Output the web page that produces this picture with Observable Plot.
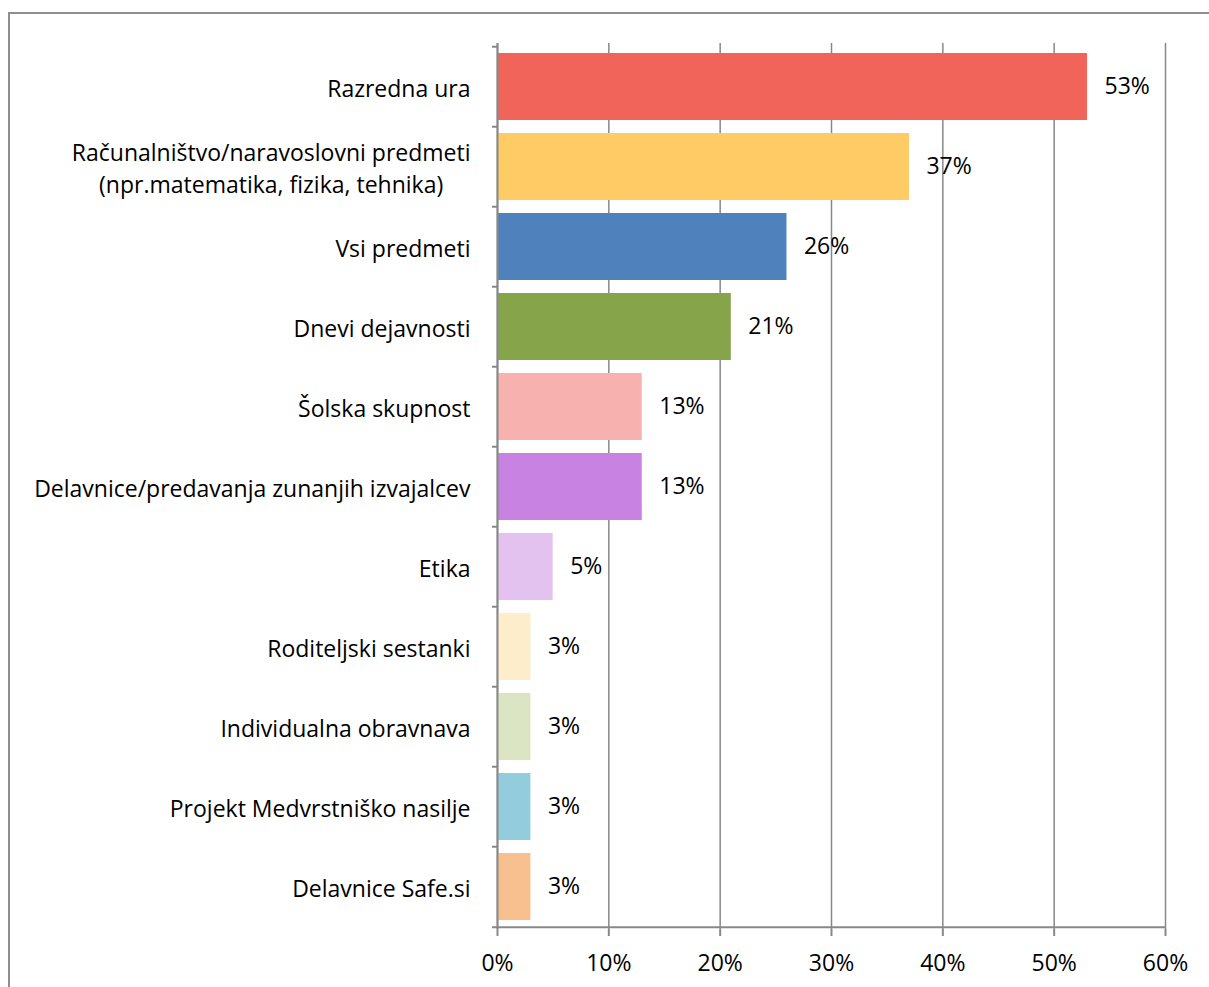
<!DOCTYPE html>
<html>
<head>
<meta charset="utf-8">
<script src="https://cdn.jsdelivr.net/npm/d3@7"></script>
<script src="https://cdn.jsdelivr.net/npm/@observablehq/plot@0.6"></script>
<style>
  html, body { margin: 0; padding: 0; background: #fff; }
  #wrap { position: relative; width: 1209px; height: 987px; overflow: hidden; }
  #border { position: absolute; left: 8px; top: 12px; width: 1400px; height: 1200px;
            border-left: 2px solid #8e8e8e; border-top: 2px solid #8e8e8e; pointer-events: none; }
</style>
</head>
<body>
<div id="wrap"><div id="chart"></div><div id="border"></div></div>
<script>
const categories = [
  "Razredna ura",
  "Računalništvo/naravoslovni predmeti (npr.matematika, fizika, tehnika)",
  "Vsi predmeti",
  "Dnevi dejavnosti",
  "Šolska skupnost",
  "Delavnice/predavanja zunanjih izvajalcev",
  "Etika",
  "Roditeljski sestanki",
  "Individualna obravnava",
  "Projekt Medvrstniško nasilje",
  "Delavnice Safe.si"
];
const values = [53, 37, 26, 21, 13, 13, 5, 3, 3, 3, 3];
const barColors = ["#F06459", "#FECB65", "#4F81BD", "#86A44A", "#F7B2B0", "#C882E2",
                   "#E4C2F0", "#FEEDCA", "#DBE5C3", "#93CDDD", "#F9C08F"];
const xTicks = [0, 10, 20, 30, 40, 50, 60];

const data = categories.map((c, i) => ({cat: c, value: values[i], color: barColors[i]}));

const W = 1209, H = 987, mt = 43, mb = 58, ml = 497, mr = 44;
const step = (H - mt - mb) / categories.length;
const gray = "#888888";
const font = "'Open Sans', sans-serif";
const fs = 23;

const labelFormat = d => d.replace(" (npr.", "\n(npr.");

const svg = Plot.plot({
  width: W, height: H,
  marginLeft: ml, marginRight: mr, marginTop: mt, marginBottom: mb,
  style: {fontFamily: font, fontSize: fs + "px", color: "#000", background: "white", overflow: "visible"},
  x: {domain: [0, 60], label: null},
  y: {domain: categories, paddingInner: 0.168, paddingOuter: 0.084, label: null},
  marks: [
    Plot.gridX(xTicks, {stroke: gray, strokeOpacity: 1, strokeWidth: 1.5}),
    Plot.barX(data, {y: "cat", x: "value", fill: "color"}),
    Plot.ruleX([0], {stroke: gray, strokeWidth: 2}),
    Plot.ruleY([categories[categories.length - 1]], {dy: step / 2, stroke: gray, strokeWidth: 2, insetLeft: -5}),
    Plot.axisY({tickSize: 5, tickFormat: () => "", dy: -step / 2, stroke: gray, strokeWidth: 2}),
    Plot.axisY({tickSize: 0, tickPadding: 27, tickFormat: labelFormat, fontSize: fs, fill: "#000", lineHeight: 1.39}),
    Plot.axisX(xTicks, {tickSize: 7, tickPadding: 18, tickFormat: d => d + "%", stroke: gray, strokeWidth: 2, fontSize: fs, fill: "#000"}),
    Plot.text(data, {y: "cat", x: "value", text: d => d.value + "%", dx: 17, textAnchor: "start", fontSize: fs, fill: "#000"})
  ]
});
document.getElementById("chart").appendChild(svg);

// Center multi-line category label lines relative to each other (as in the original)
svg.querySelectorAll("text").forEach(t => {
  const spans = t.querySelectorAll("tspan");
  if (spans.length > 1) {
    let w = 0;
    spans.forEach(s => { w = Math.max(w, s.getComputedTextLength()); });
    t.setAttribute("text-anchor", "middle");
    spans.forEach(s => s.setAttribute("x", -w / 2));
  }
});
</script>
</body>
</html>
